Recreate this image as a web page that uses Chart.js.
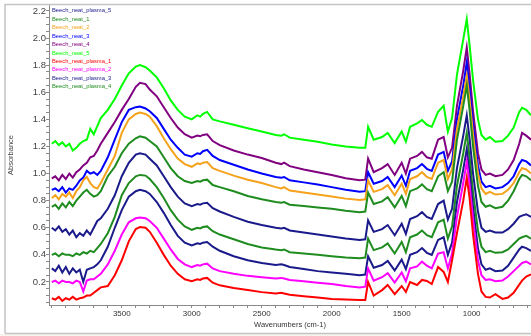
<!DOCTYPE html>
<html>
<head>
<meta charset="utf-8">
<script src="https://cdn.jsdelivr.net/npm/chart.js@4.4.4/dist/chart.umd.min.js"></script>
<style>
  html, body { margin: 0; padding: 0; background: #fff; }
  #wrap { width: 531px; height: 336px; position: relative; }
</style>
</head>
<body>
<div id="wrap"><canvas id="chart"></canvas></div>
<script>
// wavenumbers (cm-1), shared by every spectrum
const wavenumbers = [
  4000, 3975, 3950, 3925, 3900, 3875, 3850, 3825, 3800, 3775, 3750, 3725, 3700, 3675, 3650,
  3600, 3550, 3500, 3450, 3400, 3370, 3330, 3300, 3250, 3200, 3150, 3100, 3050, 3000,
  2960, 2940, 2920, 2890, 2850, 2800, 2700, 2600, 2500, 2400, 2360, 2340, 2300, 2200, 2100, 2000, 1900, 1800,
  1760, 1740, 1700, 1640, 1600, 1550, 1500, 1470, 1440, 1390, 1355, 1320, 1285, 1240, 1200, 1170, 1140, 1105, 1060, 1035, 1015, 990,
  955, 930, 900, 870, 830, 780, 740, 700, 660, 640, 610, 576
];

const neat5 = [
  1.22, 1.24, 1.21, 1.23, 1.20, 1.22, 1.17, 1.19, 1.22, 1.24, 1.25, 1.33, 1.29, 1.35, 1.41,
  1.47, 1.55, 1.65, 1.74, 1.79, 1.80, 1.785, 1.76, 1.71, 1.63, 1.54, 1.47, 1.42, 1.40,
  1.43, 1.42, 1.44, 1.455, 1.40, 1.385, 1.36, 1.335, 1.31, 1.285, 1.28, 1.29, 1.265, 1.25, 1.235, 1.215, 1.20, 1.19,
  1.19, 1.345, 1.25, 1.27, 1.30, 1.225, 1.31, 1.235, 1.345, 1.37, 1.395, 1.36, 1.345, 1.455, 1.50, 1.31, 1.41, 1.73, 1.99, 2.14, 1.95, 1.69,
  1.40, 1.285, 1.25, 1.27, 1.235, 1.24, 1.28, 1.34, 1.455, 1.485, 1.47, 1.43
];
const neat4 = [
  0.965, 0.98, 0.95, 0.99, 0.96, 1.00, 0.97, 1.01, 1.03, 1.06, 1.08, 1.12, 1.13, 1.17, 1.22,
  1.30, 1.38, 1.47, 1.55, 1.64, 1.67, 1.66, 1.62, 1.57, 1.49, 1.41, 1.34, 1.29, 1.265,
  1.28, 1.275, 1.285, 1.29, 1.24, 1.21, 1.17, 1.14, 1.115, 1.08, 1.07, 1.08, 1.055, 1.03, 1.01, 0.99, 0.965, 0.95,
  0.955, 1.11, 1.01, 1.04, 1.07, 0.99, 1.08, 1.00, 1.11, 1.13, 1.16, 1.12, 1.11, 1.25, 1.27, 1.12, 1.19, 1.50, 1.76, 1.93, 1.74, 1.46,
  1.15, 1.03, 0.99, 1.00, 0.98, 0.99, 1.03, 1.10, 1.22, 1.30, 1.28, 1.25
];
const neat3 = [
  0.88, 0.89, 0.87, 0.90, 0.86, 0.89, 0.88, 0.91, 0.95, 0.97, 1.02, 1.00, 1.01, 0.99, 1.02,
  1.12, 1.25, 1.38, 1.47, 1.49, 1.495, 1.48, 1.46, 1.41, 1.33, 1.25, 1.19, 1.14, 1.125,
  1.15, 1.145, 1.165, 1.175, 1.13, 1.10, 1.065, 1.03, 1.00, 0.975, 0.97, 0.975, 0.95, 0.935, 0.92, 0.90, 0.88, 0.865,
  0.87, 1.01, 0.925, 0.945, 0.975, 0.90, 0.985, 0.91, 1.02, 1.04, 1.07, 1.035, 1.02, 1.14, 1.16, 1.02, 1.09, 1.40, 1.65, 1.82, 1.63, 1.36,
  1.06, 0.94, 0.90, 0.91, 0.89, 0.90, 0.93, 0.98, 1.07, 1.10, 1.09, 1.06
];
const neat2 = [
  0.82, 0.84, 0.81, 0.85, 0.83, 0.86, 0.82, 0.87, 0.90, 0.95, 0.975, 0.93, 0.90, 0.89, 0.93,
  1.03, 1.13, 1.30, 1.40, 1.44, 1.45, 1.44, 1.42, 1.35, 1.26, 1.18, 1.11, 1.07, 1.05,
  1.075, 1.07, 1.08, 1.085, 1.04, 1.02, 0.985, 0.955, 0.93, 0.90, 0.89, 0.90, 0.875, 0.86, 0.845, 0.83, 0.815, 0.805,
  0.81, 0.95, 0.865, 0.885, 0.915, 0.84, 0.925, 0.85, 0.96, 0.98, 1.01, 0.975, 0.96, 1.08, 1.10, 0.96, 1.03, 1.33, 1.57, 1.72, 1.55, 1.29,
  1.00, 0.89, 0.85, 0.865, 0.845, 0.85, 0.88, 0.93, 1.01, 1.04, 1.03, 1.00
];
const neat1 = [
  0.755, 0.77, 0.74, 0.78, 0.75, 0.79, 0.76, 0.80, 0.83, 0.86, 0.88, 0.85, 0.83, 0.84, 0.87,
  0.98, 1.05, 1.15, 1.22, 1.26, 1.275, 1.265, 1.24, 1.20, 1.12, 1.04, 0.98, 0.945, 0.93,
  0.945, 0.94, 0.95, 0.955, 0.915, 0.90, 0.87, 0.835, 0.81, 0.79, 0.785, 0.79, 0.77, 0.76, 0.75, 0.74, 0.725, 0.715,
  0.72, 0.86, 0.775, 0.795, 0.825, 0.75, 0.835, 0.76, 0.87, 0.89, 0.92, 0.885, 0.87, 0.98, 1.01, 0.87, 0.94, 1.25, 1.50, 1.65, 1.47, 1.20,
  0.91, 0.79, 0.755, 0.765, 0.745, 0.755, 0.80, 0.87, 0.96, 0.99, 0.98, 0.95
];
const plasma5 = [
  0.60, 0.58, 0.61, 0.57, 0.59, 0.55, 0.58, 0.53, 0.56, 0.54, 0.58, 0.55, 0.60, 0.65, 0.67,
  0.74, 0.84, 0.98, 1.08, 1.14, 1.15, 1.14, 1.11, 1.06, 0.98, 0.90, 0.83, 0.78, 0.76,
  0.775, 0.77, 0.78, 0.785, 0.745, 0.72, 0.68, 0.645, 0.62, 0.60, 0.595, 0.60, 0.58, 0.565, 0.55, 0.535, 0.52, 0.51,
  0.515, 0.655, 0.57, 0.59, 0.62, 0.545, 0.63, 0.555, 0.665, 0.685, 0.715, 0.68, 0.665, 0.775, 0.80, 0.66, 0.74, 1.04, 1.28, 1.43, 1.26, 1.00,
  0.72, 0.60, 0.57, 0.58, 0.565, 0.565, 0.59, 0.63, 0.68, 0.69, 0.70, 0.68
];
const plasma4 = [
  0.40, 0.41, 0.39, 0.41, 0.40, 0.40, 0.39, 0.41, 0.40, 0.42, 0.41, 0.43, 0.42, 0.45, 0.48,
  0.56, 0.68, 0.84, 0.93, 0.98, 0.99, 0.985, 0.96, 0.90, 0.82, 0.73, 0.66, 0.61, 0.585,
  0.60, 0.595, 0.605, 0.61, 0.575, 0.55, 0.515, 0.48, 0.455, 0.44, 0.435, 0.44, 0.42, 0.41, 0.40, 0.39, 0.38, 0.375,
  0.38, 0.52, 0.435, 0.455, 0.485, 0.41, 0.495, 0.42, 0.53, 0.55, 0.58, 0.545, 0.53, 0.64, 0.66, 0.52, 0.61, 0.91, 1.15, 1.30, 1.12, 0.86,
  0.58, 0.46, 0.42, 0.43, 0.415, 0.42, 0.44, 0.48, 0.52, 0.53, 0.54, 0.52
];
const plasma3 = [
  0.30, 0.28, 0.32, 0.27, 0.31, 0.26, 0.30, 0.27, 0.29, 0.20, 0.29, 0.30, 0.31, 0.33, 0.36,
  0.46, 0.60, 0.73, 0.83, 0.87, 0.88, 0.87, 0.85, 0.79, 0.71, 0.62, 0.54, 0.49, 0.47,
  0.485, 0.48, 0.49, 0.495, 0.46, 0.43, 0.39, 0.36, 0.34, 0.325, 0.33, 0.325, 0.31, 0.295, 0.28, 0.27, 0.26, 0.25,
  0.255, 0.39, 0.305, 0.325, 0.355, 0.285, 0.365, 0.295, 0.40, 0.42, 0.45, 0.415, 0.40, 0.51, 0.53, 0.40, 0.49, 0.79, 1.03, 1.18, 1.01, 0.75,
  0.45, 0.33, 0.29, 0.30, 0.28, 0.285, 0.32, 0.38, 0.44, 0.46, 0.45, 0.43
];
const plasma2 = [
  0.20, 0.21, 0.19, 0.21, 0.20, 0.20, 0.19, 0.21, 0.20, 0.13, 0.21, 0.22, 0.22, 0.24, 0.26,
  0.33, 0.43, 0.55, 0.64, 0.67, 0.675, 0.67, 0.65, 0.60, 0.52, 0.44, 0.37, 0.33, 0.31,
  0.325, 0.32, 0.33, 0.335, 0.30, 0.28, 0.26, 0.245, 0.235, 0.225, 0.23, 0.225, 0.215, 0.205, 0.195, 0.185, 0.17, 0.16,
  0.165, 0.30, 0.21, 0.235, 0.265, 0.195, 0.27, 0.205, 0.30, 0.315, 0.35, 0.32, 0.30, 0.41, 0.42, 0.30, 0.41, 0.68, 0.93, 1.09, 0.92, 0.66,
  0.36, 0.25, 0.215, 0.22, 0.205, 0.21, 0.24, 0.28, 0.32, 0.34, 0.35, 0.33
];
const plasma1 = [
  0.08, 0.07, 0.09, 0.06, 0.08, 0.07, 0.09, 0.07, 0.08, 0.085, 0.10, 0.10, 0.12, 0.14, 0.16,
  0.17, 0.25, 0.36, 0.50, 0.59, 0.605, 0.60, 0.57, 0.49, 0.40, 0.32, 0.26, 0.22, 0.205,
  0.22, 0.215, 0.225, 0.23, 0.195, 0.175, 0.155, 0.14, 0.125, 0.115, 0.12, 0.115, 0.105, 0.095, 0.085, 0.075, 0.07, 0.067,
  0.067, 0.20, 0.10, 0.14, 0.178, 0.11, 0.17, 0.126, 0.20, 0.178, 0.215, 0.207, 0.185, 0.31, 0.274, 0.20, 0.36, 0.56, 0.80, 0.97, 0.82, 0.55,
  0.26, 0.13, 0.09, 0.085, 0.11, 0.075, 0.085, 0.12, 0.18, 0.21, 0.24, 0.255
];

const seriesNames = [
  'Beech_neat_plasma_5', 'Beech_neat_1', 'Beech_neat_2', 'Beech_neat_3', 'Beech_neat_4',
  'Beech_neat_5', 'Beech_neat_plasma_1', 'Beech_neat_plasma_2', 'Beech_neat_plasma_3', 'Beech_neat_plasma_4'
];
const seriesValues = [plasma5, neat1, neat2, neat3, neat4, neat5, plasma1, plasma2, plasma3, plasma4];
const seriesColors = [
  '#1a1a8a', '#1e8c1e', '#f5a21c', '#0000ff', '#800080',
  '#00ff00', '#ff0000', '#ff00ff', '#1a1a8a', '#1e8c1e'
];

const xTickLabels = [3500, 3000, 2500, 2000, 1500, 1000];
const yTickLabels = [0.2, 0.4, 0.6, 0.8, 1.0, 1.2, 1.4, 1.6, 1.8, 2.0, 2.2];

// minor tick positions (every 100 cm-1, every 0.05 absorbance)
const xMinorTicks = [];
for (let w = 600; w <= 4000; w += 100) xMinorTicks.push(w);
const yMinorTicks = [];
for (let k = 1; k <= 44; k++) yMinorTicks.push(Math.round(k * 5) / 100);

// frame round the figure + off-white strip under it
const framePlugin = {
  id: 'frame',
  beforeDraw(chart) {
    const ctx = chart.ctx;
    ctx.save();
    ctx.fillStyle = '#ffffff';
    ctx.fillRect(0, 0, chart.width, chart.height);
    ctx.fillStyle = '#f7f4f0';
    ctx.fillRect(0, 334, chart.width, chart.height - 334);
    ctx.restore();
  },
  afterDraw(chart) {
    const ctx = chart.ctx;
    ctx.save();
    ctx.strokeStyle = '#c4c4c4';
    ctx.lineWidth = 1.5;
    ctx.beginPath();
    ctx.moveTo(5, 333.5); ctx.lineTo(5, 4.5); ctx.lineTo(chart.width, 4.5);
    ctx.moveTo(5, 333.5); ctx.lineTo(chart.width, 333.5);
    ctx.stroke();
    ctx.restore();
  }
};

// coloured text legend in the top-left corner of the plot
const textLegend = {
  id: 'textLegend',
  afterDatasetsDraw(chart) {
    const ctx = chart.ctx;
    const area = chart.chartArea;
    ctx.save();
    ctx.font = '5.8px Arial, "Liberation Sans", sans-serif';
    ctx.textBaseline = 'middle';
    ctx.textAlign = 'left';
    seriesNames.forEach((name, i) => {
      ctx.fillStyle = seriesColors[i];
      ctx.fillText(name, area.left + 3, 10.7 + i * 8.45);
    });
    ctx.restore();
  }
};

const datasets = seriesNames.map((name, i) => ({
  label: name,
  data: wavenumbers.map((w, j) => ({ x: w, y: seriesValues[i][j] })),
  borderColor: seriesColors[i],
  backgroundColor: seriesColors[i],
  borderWidth: 2,
  pointRadius: 0,
  tension: 0,
  fill: false
}));

new Chart(document.getElementById('chart'), {
  type: 'line',
  data: { datasets },
  options: {
    responsive: true,
    maintainAspectRatio: false,
    animation: false,
    layout: { padding: { top: 5, right: 0, bottom: 0, left: 0 } },
    plugins: {
      legend: { display: false },
      tooltip: { enabled: false }
    },
    scales: {
      x: {
        type: 'linear',
        reverse: true,
        min: 576,
        max: 4020,
        border: { color: '#8a8a8a', width: 1 },
        grid: { display: true, drawOnChartArea: false, tickLength: 3, color: '#8a8a8a' },
        afterBuildTicks(s) { s.ticks = xMinorTicks.map(v => ({ value: v })); },
        ticks: {
          autoSkip: false,
          maxRotation: 0,
          padding: 1,
          color: '#333',
          font: { size: 8, family: 'Arial, "Liberation Sans", sans-serif' },
          callback: (v) => (xTickLabels.includes(v) ? String(v) : '')
        },
        title: {
          display: true,
          text: 'Wavenumbers (cm-1)',
          color: '#333',
          font: { size: 7.5, family: 'Arial, "Liberation Sans", sans-serif' },
          padding: { top: 0, bottom: 7 }
        },
        afterFit(s) { s.height = 31; s.paddingLeft = 0; s.paddingRight = 0; }
      },
      y: {
        min: 0.03,
        max: 2.244,
        border: { color: '#8a8a8a', width: 1 },
        grid: { display: true, drawOnChartArea: false, tickLength: 3, color: '#8a8a8a' },
        afterBuildTicks(s) { s.ticks = yMinorTicks.map(v => ({ value: v })); },
        ticks: {
          autoSkip: false,
          padding: 0,
          color: '#444',
          font: { size: 9.5, family: 'Arial, "Liberation Sans", sans-serif' },
          callback: (v) => {
            const hit = yTickLabels.find(t => Math.abs(t - v) < 1e-6);
            return hit !== undefined ? hit.toFixed(1) : '';
          }
        },
        title: {
          display: true,
          text: 'Absorbance',
          color: '#444',
          font: { size: 7.5, family: 'Arial, "Liberation Sans", sans-serif' },
          padding: { top: 6.5, bottom: 0 }
        },
        afterFit(s) { s.width = 49; s.paddingTop = 0; s.paddingBottom = 0; }
      }
    }
  },
  plugins: [framePlugin, textLegend]
});
</script>
</body>
</html>
